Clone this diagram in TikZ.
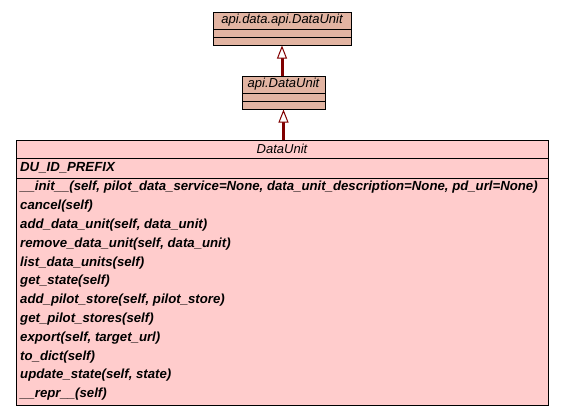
\documentclass[tikz,border=0pt]{standalone}
\usepackage{fontspec}
\setmainfont{Liberation Sans}
\usetikzlibrary{arrows.meta}
\definecolor{umlred}{HTML}{800000}
\definecolor{basefill}{HTML}{E2B4A2}
\definecolor{classfill}{HTML}{FFCCCC}
\begin{document}
\begin{tikzpicture}[x=1pt, y=-1pt, font=\fontsize{13.2}{15}\selectfont\bfseries\itshape,
  classbox/.style={draw, line width=1pt, inner sep=0pt},
  classname/.style={font=\fontsize{13}{15}\selectfont\itshape},
  member/.style={anchor=west, inner sep=0pt},
  inherit/.style={draw=umlred, line width=3pt,
    -{Triangle[width=10pt, length=13pt, fill=white, line width=1pt]}}]
\useasboundingbox (0,0) rectangle (563,416);

% Base class
\node[classbox, fill=basefill, minimum width=138pt, minimum height=33pt] (top) at (282,28.5) {};
\node[classname] (toptitle) at (282,20.5) {api.data.api.DataUnit};
\draw[line width=1pt] (213,29) -- (351,29);
\draw[line width=1pt] (213,37) -- (351,37);

% Intermediate class
\node[classbox, fill=basefill, minimum width=83pt, minimum height=33pt] (mid) at (283.5,92.5) {};
\node[classname] (midtitle) at (283.5,84.5) {api.DataUnit};
\draw[line width=1pt] (242,93) -- (325,93);
\draw[line width=1pt] (242,101) -- (325,101);

% DataUnit class
\node[classbox, fill=classfill, minimum width=532pt, minimum height=265pt] (du) at (282,272.5) {};
\node[classname] (dutitle) at (282,149) {DataUnit};
\draw[line width=1pt] (16,158) -- (548,158);
\node[member] (duattr) at (20,167.5) {DU\_ID\_PREFIX};
\draw[line width=1pt] (16,178) -- (548,178);
\foreach \op [count=\i] in {%
  {\_\_init\_\_(self, pilot\_data\_service=None, data\_unit\_description=None, pd\_url=None)},
  {cancel(self)},
  {add\_data\_unit(self, data\_unit)},
  {remove\_data\_unit(self, data\_unit)},
  {list\_data\_units(self)},
  {get\_state(self)},
  {add\_pilot\_store(self, pilot\_store)},
  {get\_pilot\_stores(self)},
  {export(self, target\_url)},
  {to\_dict(self)},
  {update\_state(self, state)},
  {\_\_repr\_\_(self)}}
  \node[member] (op\i) at (20,{187.5+18.8*(\i-1)}) {\op};

% Generalisations
\draw[inherit] (du.north -| mid) -- (mid.south);
\draw[inherit] (mid.north -| top) -- (top.south);

\end{tikzpicture}
\end{document}
